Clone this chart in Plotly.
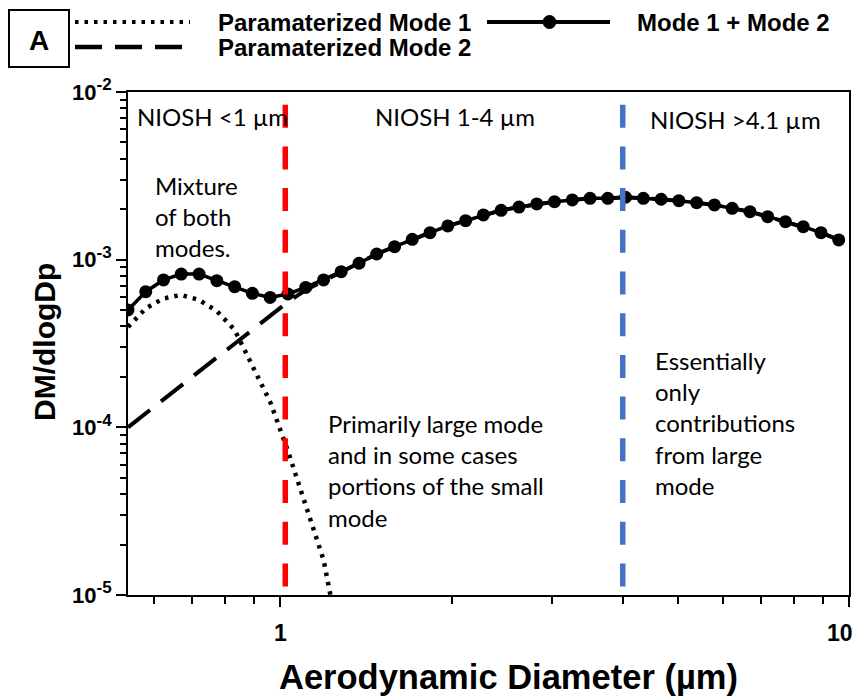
import math
import plotly.graph_objects as go

# ---------------- data ----------------
diameter_um = [0.5395, 0.5797, 0.6229, 0.6694, 0.7194, 0.7731, 0.8309, 0.8928, 0.9594,
               1.031, 1.108, 1.191, 1.279, 1.375, 1.477, 1.588, 1.706, 1.833, 1.970,
               2.117, 2.275, 2.445, 2.628, 2.824, 3.034, 3.261, 3.504, 3.765, 4.046,
               4.348, 4.673, 5.021, 5.395, 5.798, 6.231, 6.696, 7.194, 7.731, 8.309,
               8.928, 9.594]

mode_sum = [5.01e-4, 6.44e-4, 7.57e-4, 8.21e-4, 8.21e-4, 7.49e-4, 6.90e-4, 6.30e-4, 5.95e-4,
            6.24e-4, 6.83e-4, 7.57e-4, 8.48e-4, 9.52e-4, 1.081e-3, 1.195e-3, 1.323e-3,
            1.449e-3, 1.589e-3, 1.709e-3, 1.848e-3, 1.97e-3, 2.06e-3, 2.149e-3, 2.218e-3,
            2.27e-3, 2.323e-3, 2.323e-3, 2.356e-3, 2.323e-3, 2.292e-3, 2.248e-3, 2.187e-3,
            2.12e-3, 2.025e-3, 1.933e-3, 1.805e-3, 1.685e-3, 1.573e-3, 1.449e-3, 1.311e-3]

mode1_diameter = diameter_um[:13]
mode1 = [3.97e-4, 5.12e-4, 5.87e-4, 6.16e-4, 5.75e-4, 4.94e-4, 3.81e-4, 2.29e-4, 1.42e-4,
         7.23e-5, 3.35e-5, 1.62e-5, 4.7e-6]

mode2 = [1.00e-4, 1.215e-4, 1.47e-4, 1.78e-4, 2.15e-4, 2.61e-4, 3.15e-4, 3.82e-4, 4.61e-4,
         5.60e-4, 6.59e-4, 7.45e-4, 8.42e-4, 9.45e-4, 1.081e-3, 1.195e-3, 1.323e-3,
         1.449e-3, 1.589e-3, 1.709e-3, 1.848e-3, 1.97e-3, 2.06e-3, 2.149e-3, 2.218e-3,
         2.27e-3, 2.323e-3, 2.323e-3, 2.356e-3, 2.323e-3, 2.292e-3, 2.248e-3, 2.187e-3,
         2.12e-3, 2.025e-3, 1.933e-3, 1.805e-3, 1.685e-3, 1.573e-3, 1.449e-3, 1.311e-3]

cutoff_um = [1.02, 4.0]
cutoff_colors = ["#FF0000", "#4472C4"]
cutoff_span = [8.4e-3, 1.07e-5]

x_ticks = [1, 10]
x_ticktext = ["1", "10"]
x_minor = [0.6, 0.7, 0.8, 0.9, 2, 3, 4, 5, 6, 7, 8, 9]
y_ticks = [1e-5, 1e-4, 1e-3, 1e-2]
y_exponents = ["-5", "-4", "-3", "-2"]
y_ticktext = ["10<sup><span style='font-size:17px'>%s</span></sup>" % e for e in y_exponents]
y_minor = [m * 10 ** e for e in (-5, -4, -3) for m in range(2, 10)]

# ---------------- geometry ----------------
# the page adds an 8 px body margin, so the figure is drawn 8 px smaller
OFF = 8
W, H = 865 - OFF, 699 - OFF
SL, SR, ST, SB = 128, 849, 92, 595          # plot area in screen pixels
L, T = SL - OFF, ST - OFF
PW, PH = SR - SL, SB - ST
R, B = W - L - PW, H - T - PH


def px(x):
    return (x - SL) / PW


def py(y):
    return (SB - y) / PH


ANN_FONT = "Lato"
AX_FONT = "Liberation Sans"

fig = go.Figure()

fig.add_trace(go.Scatter(x=mode1_diameter, y=mode1, mode="lines",
                         line=dict(color="black", width=4.5, dash="3.5px,6px"),
                         name="Paramaterized Mode 1", showlegend=False))
fig.add_trace(go.Scatter(x=diameter_um, y=mode2, mode="lines",
                         line=dict(color="black", width=4, dash="28px,14px"),
                         name="Paramaterized Mode 2", showlegend=False))
fig.add_trace(go.Scatter(x=diameter_um, y=mode_sum, mode="lines+markers",
                         line=dict(color="black", width=3.5),
                         marker=dict(color="black", size=13),
                         name="Mode 1 + Mode 2", showlegend=False))

for cx, col in zip(cutoff_um, cutoff_colors):
    fig.add_trace(go.Scatter(x=[cx, cx], y=cutoff_span, mode="lines",
                             line=dict(color=col, width=5.5, dash="23px,18.7px"),
                             showlegend=False, hoverinfo="skip"))

# ---------------- text annotations ----------------
anns = [
    ("NIOSH <1 µm", 135, 117),
    ("NIOSH 1-4 µm", 373, 117),
    ("NIOSH >4.1 µm", 648, 119),
    ("Mixture<br>of both<br>modes.", 153, 216),
    ("Primarily large mode<br>and in some cases<br>portions of the small<br>mode", 326, 470),
    ("Essentially<br>only<br>contributions<br>from large<br>mode", 653, 423),
]
for text, x, y in anns:
    fig.add_annotation(text=text, x=px(x), y=py(y), xref="paper", yref="paper",
                       xanchor="left", yanchor="middle", align="left", showarrow=False,
                       font=dict(family=ANN_FONT, size=24, color="black"))

# x tick labels (drawn as text at the axis values; log axes take log10 positions);
# the last one is nudged left so that it stays inside the window
tick_font = dict(family=AX_FONT, size=23, color="black", weight="bold")
tick_shift = [0, -9]
for v, t, s in zip(x_ticks, x_ticktext, tick_shift):
    fig.add_annotation(text=t, x=math.log10(v), xref="x", y=py(633), yref="paper",
                       xanchor="center", yanchor="middle", xshift=s, showarrow=False,
                       font=tick_font)

# legend (drawn)
leg_font = dict(family=AX_FONT, size=24, color="black", weight="bold")
ROW1, ROW2 = 22, 47
fig.add_annotation(text="Paramaterized Mode 1", x=px(216), y=py(ROW1), xref="paper", yref="paper",
                   xanchor="left", yanchor="middle", showarrow=False, font=leg_font)
fig.add_annotation(text="Paramaterized Mode 2", x=px(216), y=py(ROW2), xref="paper", yref="paper",
                   xanchor="left", yanchor="middle", showarrow=False, font=leg_font)
fig.add_annotation(text="Mode 1 + Mode 2", x=px(635), y=py(ROW1), xref="paper", yref="paper",
                   xanchor="left", yanchor="middle", showarrow=False, font=leg_font)
fig.add_shape(type="line", xref="paper", yref="paper", x0=px(75), x1=px(190), y0=py(ROW1), y1=py(ROW1),
              line=dict(color="black", width=4, dash="3.5px,6px"))
fig.add_shape(type="line", xref="paper", yref="paper", x0=px(75), x1=px(183), y0=py(ROW2), y1=py(ROW2),
              line=dict(color="black", width=4.5, dash="27px,13px"))
fig.add_shape(type="line", xref="paper", yref="paper", x0=px(487), x1=px(610), y0=py(ROW1), y1=py(ROW1),
              line=dict(color="black", width=4))
fig.add_shape(type="circle", xref="paper", yref="paper", x0=px(543), x1=px(556),
              y0=py(ROW1 + 6.5), y1=py(ROW1 - 6.5),
              fillcolor="black", line=dict(color="black", width=1))

# panel label box
fig.add_shape(type="rect", xref="paper", yref="paper", x0=px(9), x1=px(69), y0=py(67), y1=py(10),
              line=dict(color="black", width=2), fillcolor="white")
fig.add_annotation(text="A", x=px(39), y=py(40), xref="paper", yref="paper",
                   xanchor="center", yanchor="middle", showarrow=False,
                   font=dict(family=AX_FONT, size=28, color="black", weight="bold"))

# axis titles
fig.add_annotation(text="Aerodynamic Diameter (µm)", x=px(508), y=py(677), xref="paper", yref="paper",
                   xanchor="center", yanchor="middle", showarrow=False,
                   font=dict(family=AX_FONT, size=34.5, color="black", weight="bold"))
fig.add_annotation(text="DM/dlogDp", x=px(44), y=py(342), xref="paper", yref="paper",
                   xanchor="center", yanchor="middle", showarrow=False, textangle=-90,
                   font=dict(family=AX_FONT, size=30, color="black", weight="bold"))

fig.update_layout(
    width=W, height=H,
    margin=dict(l=L, r=R, t=T, b=B, autoexpand=False),
    paper_bgcolor="white", plot_bgcolor="white",
    showlegend=False,
    xaxis=dict(type="log", range=[-0.268, 1.0], showline=True, linecolor="black", linewidth=2,
               mirror=True, ticks="outside", ticklen=10, tickwidth=2, tickcolor="black",
               tickmode="array", tickvals=x_ticks, showticklabels=False, showgrid=False,
               zeroline=False, automargin=False,
               minor=dict(tickmode="array", tickvals=x_minor, ticks="outside", ticklen=7,
                          tickwidth=2, tickcolor="black", showgrid=False)),
    yaxis=dict(type="log", range=[-5, -2], showline=True, linecolor="black", linewidth=2,
               mirror=True, ticks="outside", ticklen=10, tickwidth=2, tickcolor="black",
               tickmode="array", tickvals=y_ticks, ticktext=y_ticktext, showgrid=False,
               zeroline=False, automargin=False,
               tickfont=dict(family=AX_FONT, size=22, color="black", weight="bold"),
               minor=dict(tickmode="array", tickvals=y_minor, ticks="outside", ticklen=6,
                          tickwidth=2, tickcolor="black", showgrid=False)),
)

fig.write_html("out.html")
